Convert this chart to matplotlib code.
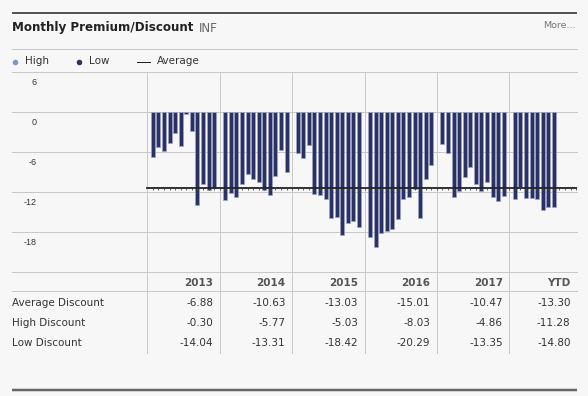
import numpy as np
import matplotlib
matplotlib.use('Agg')
import matplotlib.pyplot as plt

# 每月溢价/折价数据 (%)
years = ['2013', '2014', '2015', '2016', '2017', 'YTD']
m_2013 = [-6.85, -5.25, -5.95, -4.75, -3.15, -5.15, -0.30, -2.95, -14.04, -10.9, -11.8, -11.5]
m_2014 = [-13.31, -12.2, -12.8, -10.9, -9.35, -10.1, -10.5, -11.8, -12.5, -9.65, -5.77, -9.0]
m_2015 = [-6.25, -6.95, -5.03, -12.35, -12.5, -13.05, -15.9, -15.8, -18.42, -16.7, -16.35, -17.3]
m_2016 = [-18.85, -20.29, -18.15, -17.85, -17.65, -16.05, -13.05, -12.85, -11.65, -15.9, -10.1, -8.03]
m_2017 = [-4.86, -6.2, -12.75, -11.85, -9.8, -8.3, -10.85, -11.85, -10.6, -12.85, -13.35, -12.6]
m_ytd = [-13.1, -11.28, -12.9, -12.9, -13.15, -14.80, -14.25, -14.25]
monthly = [m_2013, m_2014, m_2015, m_2016, m_2017, m_ytd]

yticks = [6, 0, -6, -12, -18]

row_names = ['Average Discount', 'High Discount', 'Low Discount']
avg_disc = [-6.88, -10.63, -13.03, -15.01, -10.47, -13.30]
high_disc = [-0.30, -5.77, -5.03, -8.03, -4.86, -11.28]
low_disc = [-14.04, -13.31, -18.42, -20.29, -13.35, -14.80]
table_rows = [avg_disc, high_disc, low_disc]

W, H = 588, 396
bg = '#f7f7f7'
grid_c = '#c8c8c8'
navy = '#2a3163'
px = 72.0 / 100  # 1像素对应的磅值

fig = plt.figure(figsize=(W / 100, H / 100), dpi=100, facecolor=bg)

# 像素坐标的装饰层
deco = fig.add_axes([0, 0, 1, 1])
deco.set_xlim(0, W)
deco.set_ylim(H, 0)
deco.axis('off')

L, R = 12, 577
deco.plot([L, R], [13, 13], color='#555555', lw=2 * px, solid_capstyle='butt')
deco.plot([L, R], [49.3, 49.3], color=grid_c, lw=px)
deco.plot([L, R], [389.5, 389.5], color='#666666', lw=2.5 * px, solid_capstyle='butt')

title = deco.text(12, 28, 'Monthly Premium/Discount', fontsize=8.6, fontweight='bold',
                  color='#222222', ha='left', va='center')
deco.annotate('INF', xy=(1, 0.5), xycoords=title, xytext=(4, 0), textcoords='offset points',
              fontsize=8.6, color='#666666', ha='left', va='center')
deco.text(576, 26, 'More...', fontsize=6.8, color='#777777', ha='right', va='center')

# 图例
deco.scatter([14.5], [61.5], s=16, color='#7b97c9', lw=0)
deco.text(25, 61.5, 'High', fontsize=7.5, color='#333333', va='center')
deco.scatter([79], [61.5], s=16, color=navy, lw=0)
deco.text(89, 61.5, 'Low', fontsize=7.5, color='#333333', va='center')
deco.plot([137, 150], [61.5, 61.5], color='#222222', lw=px)
deco.text(157, 61.5, 'Average', fontsize=7.5, color='#333333', va='center')

# 柱状图区域
top_px, bot_px, zero_px = 71.7, 272.0, 111.7
unit = 40 / 6.0
col0, colw = 147.3, 72.4
slot = colw / 13
ax = fig.add_axes([L / W, 1 - bot_px / H, (R - L) / W, (bot_px - top_px) / H])
ax.set_facecolor('none')
ax.set_xlim(-(col0 - L) / slot, (R - col0) / slot)
ymin, ymax = -(bot_px - zero_px) / unit, (zero_px - top_px) / unit
ax.set_ylim(ymin, ymax)
for s in ax.spines.values():
    s.set_visible(False)
ax.set_xticks([])
ax.set_yticks([])

for t in yticks + [ymin]:
    ax.axhline(t, color=grid_c, lw=px, clip_on=False, zorder=1)
ax.vlines([13 * k for k in range(6)], ymin, ymax, color=grid_c, lw=px, zorder=1)

for t in yticks:
    ax.text(-(col0 - 36.5) / slot, t - 10.5 / unit, str(t), fontsize=6.5,
            family='Liberation Sans', color='#333333', ha='right', va='center')

all_vals = []
for k, vals in enumerate(monthly):
    x = 13 * k + 1.0 + np.arange(len(vals))
    ax.bar(x, vals, width=0.72, color=navy, edgecolor='#9ea4c6', lw=0.5, zorder=2)
    all_vals += vals

avg = np.mean(all_vals)
xx = np.arange(0, 78) + 1.0
ax.plot([0, (R - col0) / slot], [avg, avg], color='#222222', lw=1.3, zorder=3)
ax.vlines(xx, avg - 1.6 / unit, avg, color='#444444', lw=0.6, zorder=3)

# 下方表格
bounds = [col0 + k * colw for k in range(6)] + [R]
deco.plot([L, R], [291.3, 291.3], color=grid_c, lw=px)
for b in bounds[:-1]:
    deco.plot([b, b], [272, 352.7], color=grid_c, lw=px)

for k, yr in enumerate(years):
    deco.text(bounds[k + 1] - 6.5, 283.5, yr, fontsize=7.5, fontweight='bold',
              color='#555555', ha='right', va='center')
row_y = [303.5, 323.5, 343.3]
for name, vals, y in zip(row_names, table_rows, row_y):
    deco.text(12.5, y, name, fontsize=7.5, color='#333333', ha='left', va='center')
    for k, v in enumerate(vals):
        deco.text(bounds[k + 1] - 6.5, y, '%.2f' % v, fontsize=7.5, color='#333333',
                  ha='right', va='center')

plt.savefig('out.png', dpi=100, facecolor=bg)
